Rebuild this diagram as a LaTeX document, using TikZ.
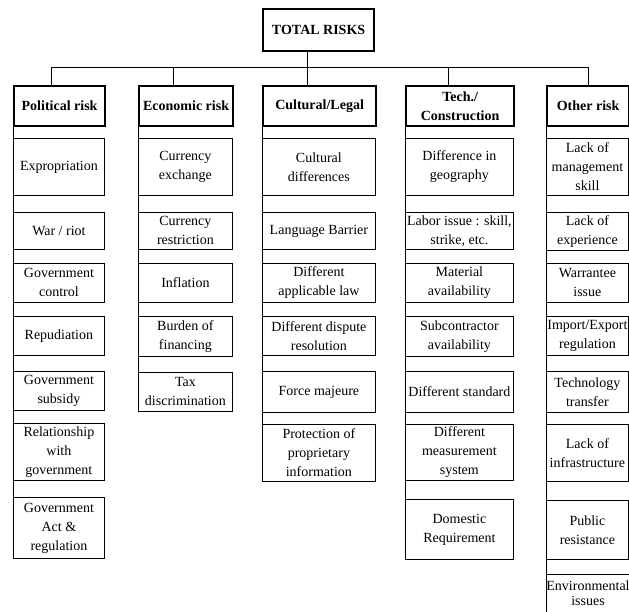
\documentclass[tikz,border=0pt]{standalone}
\usepackage{fontspec}
\setmainfont{Liberation Serif}
\begin{document}
\begin{tikzpicture}[x=1pt,y=-1pt,
  txt/.style={font=\fontsize{14}{19}\selectfont},
  itembox/.style={draw, line width=0.8pt, inner sep=0pt, align=center, anchor=north west, txt},
  headbox/.style={draw, line width=2.2pt, inner sep=0pt, align=center, anchor=north west, font=\fontsize{14}{19}\selectfont\bfseries},
  conn/.style={line width=0.7pt},
  colP/.style={minimum width=91pt},
  colE/.style={minimum width=94pt},
  colC/.style={minimum width=113pt},
  colT/.style={minimum width=108pt},
  colO/.style={minimum width=82pt},
  h/.style={minimum height=#1pt}
]
\useasboundingbox (0,0) rectangle (629,612);

% top
\node[headbox, minimum width=111pt, h=42] (total) at (262,8) {TOTAL RISKS};

% headers
\node[headbox, colP, h=40] (ph) at (13,85) {Political risk};
\node[headbox, colE, h=40] (eh) at (138,85) {Economic risk};
\node[headbox, colC, h=40] (ch) at (262,85) {Cultural/Legal};
\node[headbox, colT, h=40] (th) at (405,85) {Tech./\\Construction};
\node[headbox, colO, h=40] (oh) at (546,85) {Other risk};

% connectors
\coordinate (dp) at (51,67);
\coordinate (de) at (173,67);
\coordinate (dc) at (307,67);
\coordinate (dt) at (448,67);
\coordinate (do) at (588,67);
\draw[conn] (dp) -- (do);
\draw[conn] (total.south -| dc) -- (dc |- ch.north);
\draw[conn] (dp) -- (dp |- ph.north);
\draw[conn] (de) -- (de |- eh.north);
\draw[conn] (dt) -- (dt |- th.north);
\draw[conn] (do) -- (do |- oh.north);

% Political
\node[itembox, colP, h=57] (p1) at (13,138) {Expropriation};
\node[itembox, colP, h=37] (p2) at (13,212) {War / riot};
\node[itembox, colP, h=39] (p3) at (13,263) {Government\\control};
\node[itembox, colP, h=39] (p4) at (13,316) {Repudiation};
\node[itembox, colP, h=39] (p5) at (13,371) {Government\\subsidy};
\node[itembox, colP, h=57] (p6) at (13,423) {Relationship\\with\\government};
\node[itembox, colP, h=61] (p7) at (13,497) {Government\\Act \&\\regulation};
\draw[conn] (ph.south west) -- (p7.north west);

% Economic
\node[itembox, colE, h=57] (e1) at (138,138) {Currency\\exchange};
\node[itembox, colE, h=37] (e2) at (138,212) {Currency\\restriction};
\node[itembox, colE, h=39] (e3) at (138,263) {Inflation};
\node[itembox, colE, h=40] (e4) at (138,316) {Burden of\\financing};
\node[itembox, colE, h=39] (e5) at (138,372) {Tax\\discrimination};
\draw[conn] (eh.south west) -- (e5.north west);

% Cultural
\node[itembox, colC, h=57] (c1) at (262,138) {Cultural\\differences};
\node[itembox, colC, h=37] (c2) at (262,212) {Language Barrier};
\node[itembox, colC, h=39] (c3) at (262,263) {Different\\applicable law};
\node[itembox, colC, h=39] (c4) at (262,316) {Different dispute\\resolution};
\node[itembox, colC, h=41] (c5) at (262,371) {Force majeure};
\node[itembox, colC, h=57] (c6) at (262,424) {Protection of\\proprietary\\information};
\draw[conn] (ch.south west) -- (c6.north west);

% Tech
\node[itembox, colT, h=57] (t1) at (405,138) {Difference in\\geography};
\node[itembox, colT, h=37] (t2) at (405,212) {Labor issue : skill,\\strike, etc.};
\node[itembox, colT, h=39] (t3) at (405,263) {Material\\availability};
\node[itembox, colT, h=40] (t4) at (405,316) {Subcontractor\\availability};
\node[itembox, colT, h=41] (t5) at (405,371) {Different standard};
\node[itembox, colT, h=56] (t6) at (405,424) {Different\\measurement\\system};
\node[itembox, colT, h=60] (t7) at (405,499) {Domestic\\Requirement};
\draw[conn] (th.south west) -- (t7.north west);

% Other
\node[itembox, colO, h=57] (o1) at (546,138) {Lack of\\management\\skill};
\node[itembox, colO, h=38] (o2) at (546,212) {Lack of\\experience};
\node[itembox, colO, h=39] (o3) at (546,263) {Warrantee\\issue};
\node[itembox, colO, h=39] (o4) at (546,316) {Import/Export\\regulation};
\node[itembox, colO, h=41] (o5) at (546,371) {Technology\\transfer};
\node[itembox, colO, h=57] (o6) at (546,424) {Lack of\\infrastructure};
\node[itembox, colO, h=59] (o7) at (546,500) {Public\\resistance};
\node[itembox, draw=none, colO, h=37, font=\fontsize{14}{15}\selectfont] (o8) at (546,574) {Environmental\\issues};
\draw[line width=0.8pt] (o8.south west) ++(0,12) -- (o8.north west) -- (o8.north east) -- ++(0,49);
\draw[conn] (oh.south west) -- (o8.north west);
\end{tikzpicture}
\end{document}
